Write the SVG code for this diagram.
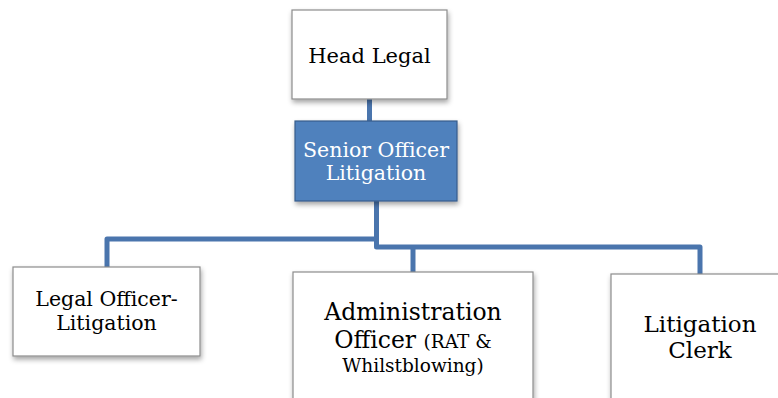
<svg xmlns="http://www.w3.org/2000/svg" width="778" height="398" viewBox="0 0 778 398">
<style>
.box{fill:#ffffff;stroke:#8c8c8c;stroke-width:1.2}
.sel{fill:#4f81bd;stroke:#385d8a;stroke-width:1.2}
.t{font-family:"DejaVu Serif","Liberation Serif",serif;fill:#000;text-anchor:middle}
.w{fill:#ffffff}
.conn{fill:none;stroke:#4a75ad;stroke-width:5;stroke-linejoin:round}
</style>
<defs>
<filter id="sh" x="-20%" y="-20%" width="140%" height="150%">
<feDropShadow dx="1" dy="3" stdDeviation="2.5" flood-color="#000" flood-opacity="0.35"/>
</filter>
</defs>
<g id="connectors">
<path class="conn" d="M369.5 99 V121"/>
<path class="conn" d="M376.5 200 V247 H700 V274"/>
<path class="conn" d="M376.5 239 H107 V267"/>
<path class="conn" d="M413 247 V272"/>
</g>
<g id="head-legal">
<rect class="box" x="292" y="10" width="155" height="89" filter="url(#sh)"/>
<text class="t" x="369.5" y="63" font-size="21">Head Legal</text>
</g>
<g id="senior-officer">
<rect class="sel" x="295" y="121" width="162" height="80" filter="url(#sh)"/>
<text class="t w" x="376" y="157" font-size="20.5">Senior Officer</text>
<text class="t w" x="376" y="180" font-size="20.5">Litigation</text>
</g>
<g id="legal-officer">
<rect class="box" x="13" y="267" width="187" height="89" filter="url(#sh)"/>
<text class="t" x="106.5" y="306" font-size="20.5">Legal Officer-</text>
<text class="t" x="106.5" y="330" font-size="20.5">Litigation</text>
</g>
<g id="admin-officer">
<rect class="box" x="293" y="272" width="240" height="140" filter="url(#sh)"/>
<text class="t" x="413" y="320" font-size="23.5">Administration</text>
<text class="t" x="413" y="348"><tspan font-size="23.5">Officer </tspan><tspan font-size="18.5">(RAT &amp;</tspan></text>
<text class="t" x="413" y="372" font-size="18.5">Whilstblowing)</text>
</g>
<g id="litigation-clerk">
<rect class="box" x="611" y="274" width="180" height="140" filter="url(#sh)"/>
<text class="t" x="700" y="332" font-size="23">Litigation</text>
<text class="t" x="700" y="358" font-size="23">Clerk</text>
</g>
</svg>
